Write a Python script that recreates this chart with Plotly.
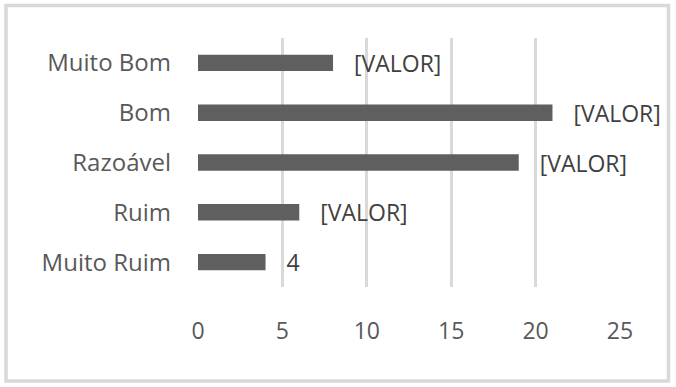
import plotly.graph_objects as go

categories = ["Muito Ruim", "Ruim", "Razoável", "Bom", "Muito Bom"]
values = [4, 6, 19, 21, 8]
labels = ["4", "[VALOR]", "[VALOR]", "[VALOR]", "[VALOR]"]
x_ticks = [0, 5, 10, 15, 20, 25]

W, H = 676, 387
L, R, T, B = 198, 56, 38, 100
pw, ph = W - L - R, H - T - B

def px(x):
    return (x - L) / pw

def py(y):
    return (H - B - y) / ph

FONT = "Open Sans"

fig = go.Figure()
fig.add_trace(go.Bar(
    y=categories, x=values, orientation="h",
    marker=dict(color="#5f5f5f", line=dict(width=0)),
    width=0.33,
    text=["   " + t for t in labels],
    textposition="outside",
    constraintext="none",
    textfont=dict(family=FONT, size=23, color="#404040"),
    cliponaxis=False,
    hoverinfo="skip",
))

fig.update_layout(
    width=W, height=H,
    margin=dict(l=L, r=R, t=T, b=B),
    paper_bgcolor="white", plot_bgcolor="white",
    showlegend=False,
    font=dict(family=FONT, size=23, color="#595959"),
    xaxis=dict(
        range=[0, 25], tickvals=x_ticks, showgrid=True, gridcolor="#d9d9d9",
        gridwidth=3, zeroline=False, showline=False,
        ticklabelstandoff=28,
        tickfont=dict(family=FONT, size=23, color="#595959"),
    ),
    yaxis=dict(
        showgrid=False, zeroline=False, showline=False,
        ticklabelstandoff=26,
        tickfont=dict(family=FONT, size=24, color="#595959"),
    ),
    shapes=[dict(
        type="rect", xref="paper", yref="paper",
        x0=px(6), x1=px(668.5), y0=py(381), y1=py(5.5),
        line=dict(color="#d9d9d9", width=3.5), fillcolor="rgba(0,0,0,0)",
        layer="below",
    )],
)

fig.write_html("out.html", config={"displayModeBar": False},
               post_script="document.body.style.margin='0';document.body.style.overflow='hidden';")
